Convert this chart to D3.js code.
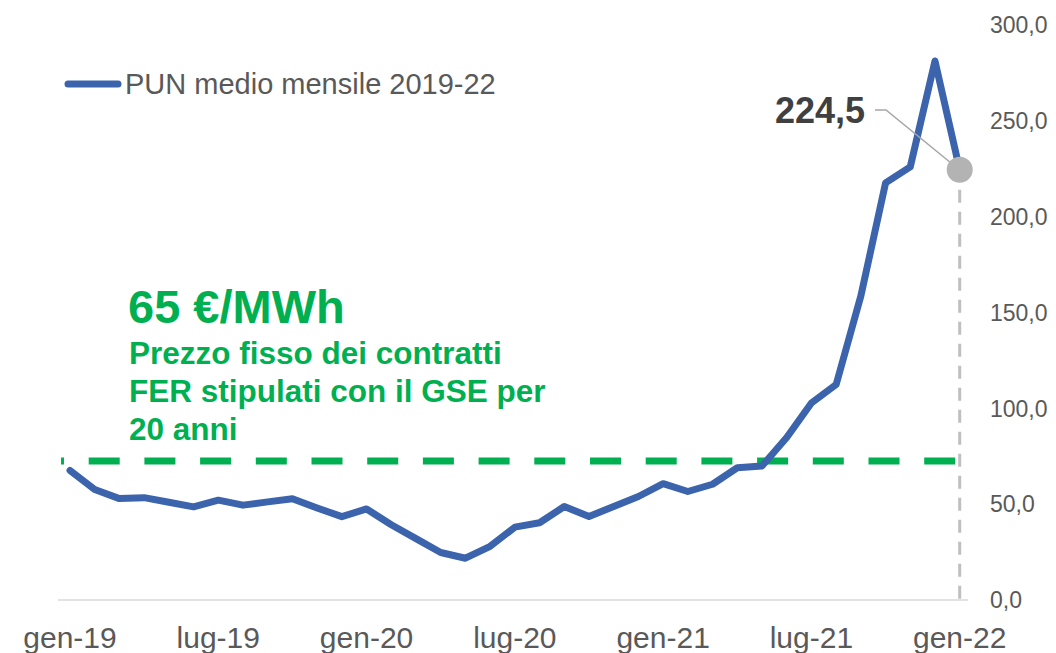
<!DOCTYPE html>
<html>
<head>
<meta charset="utf-8">
<script src="https://cdn.jsdelivr.net/npm/d3@7"></script>
<style>
  html, body { margin: 0; padding: 0; background: #fff; }
  svg { display: block; }
  text { font-family: "Liberation Sans", Arial, sans-serif; }
</style>
</head>
<body>
<svg id="chart" width="1056" height="653"></svg>
<script>
// ---- data ----
const months = [
  "gen-19","feb-19","mar-19","apr-19","mag-19","giu-19","lug-19","ago-19","set-19","ott-19","nov-19","dic-19",
  "gen-20","feb-20","mar-20","apr-20","mag-20","giu-20","lug-20","ago-20","set-20","ott-20","nov-20","dic-20",
  "gen-21","feb-21","mar-21","apr-21","mag-21","giu-21","lug-21","ago-21","set-21","ott-21","nov-21","dic-21",
  "gen-22"
];
const pun = [
  67.6, 57.7, 52.9, 53.4, 51.0, 48.6, 52.1, 49.5, 51.2, 52.8, 48.0, 43.5,
  47.5, 39.3, 32.0, 24.8, 21.8, 28.0, 38.0, 40.3, 48.8, 43.6, 48.8, 54.0,
  60.7, 56.6, 60.4, 69.0, 69.9, 84.8, 102.8, 112.4, 158.6, 217.6, 226.0, 281.2,
  224.5
];
const fixedPrice = 72.5;           // level of the green dashed line as drawn
const yTicks = [0, 50, 100, 150, 200, 250, 300];
const xTickLabels = ["gen-19","lug-19","gen-20","lug-20","gen-21","lug-21","gen-22"];
const seriesName = "PUN medio mensile 2019-22";
const lastLabel = "224,5";
const noteTitle = "65 €/MWh";
const noteLines = ["Prezzo fisso dei contratti", "FER stipulati con il GSE per", "20 anni"];

// ---- chart ----
const svg = d3.select("#chart");
const x = d3.scaleLinear().domain([0, months.length - 1]).range([70, 959.7]);
const y = d3.scaleLinear().domain([0, 300]).range([600, 25]);
const fmt = v => d3.format(".1f")(v).replace(".", ",");

// axis baseline
svg.append("line")
  .attr("x1", 58).attr("x2", 968)
  .attr("y1", y(0)).attr("y2", y(0))
  .attr("stroke", "#d9d9d9").attr("stroke-width", 1.5);

// y tick labels (right side)
svg.append("g").selectAll("text").data(yTicks).join("text")
  .attr("x", 990).attr("y", d => y(d)).attr("dy", "0.36em")
  .attr("font-size", 23).attr("fill", "#595959")
  .text(d => fmt(d));

// x tick labels
svg.append("g").selectAll("text").data(xTickLabels).join("text")
  .attr("x", d => x(months.indexOf(d))).attr("y", 648)
  .attr("text-anchor", "middle")
  .attr("font-size", 30).attr("fill", "#595959")
  .text(d => d);

// grey vertical dashed marker at last point
const last = months.length - 1;
svg.append("line")
  .attr("x1", x(last)).attr("x2", x(last))
  .attr("y1", y(pun[last]) + 20).attr("y2", y(0))
  .attr("stroke", "#bfbfbf").attr("stroke-width", 3)
  .attr("stroke-dasharray", "13,9");

// green fixed price dashed line
svg.append("line")
  .attr("x1", x(0) - 9).attr("x2", x(last) - 3.5)
  .attr("y1", y(fixedPrice)).attr("y2", y(fixedPrice))
  .attr("stroke", "#00b050").attr("stroke-width", 7)
  .attr("stroke-dasharray", "31,24.7").attr("stroke-dashoffset", 28);

// PUN line
svg.append("path")
  .datum(pun)
  .attr("fill", "none")
  .attr("stroke", "#3b64ad").attr("stroke-width", 7)
  .attr("stroke-linejoin", "round").attr("stroke-linecap", "round")
  .attr("d", d3.line().x((d, i) => x(i)).y(d => y(d)));

// last point marker + leader + label
const cx = x(last), cy = y(pun[last]);
svg.append("polyline")
  .attr("points", `${875},${110} ${886},${110} ${cx - 9},${cy - 7}`)
  .attr("fill", "none").attr("stroke", "#a6a6a6").attr("stroke-width", 1.5);
svg.append("circle")
  .attr("cx", cx).attr("cy", cy).attr("r", 13)
  .attr("fill", "#b3b3b3");
svg.append("text")
  .attr("x", 865).attr("y", 123).attr("text-anchor", "end")
  .attr("font-size", 36).attr("font-weight", "bold").attr("fill", "#404040")
  .text(lastLabel);

// legend
svg.append("line")
  .attr("x1", 68).attr("x2", 118).attr("y1", 84).attr("y2", 84)
  .attr("stroke", "#3b64ad").attr("stroke-width", 7).attr("stroke-linecap", "round");
svg.append("text")
  .attr("x", 125).attr("y", 94)
  .attr("font-size", 29).attr("fill", "#595959")
  .text(seriesName);

// green annotation
svg.append("text")
  .attr("x", 128).attr("y", 323)
  .attr("font-size", 47).attr("font-weight", "bold").attr("fill", "#00b050")
  .text(noteTitle);
svg.append("g").selectAll("text").data(noteLines).join("text")
  .attr("x", 129).attr("y", (d, i) => 364 + i * 38)
  .attr("font-size", 31.5).attr("font-weight", "bold").attr("fill", "#00b050")
  .text(d => d);
</script>
</body>
</html>
